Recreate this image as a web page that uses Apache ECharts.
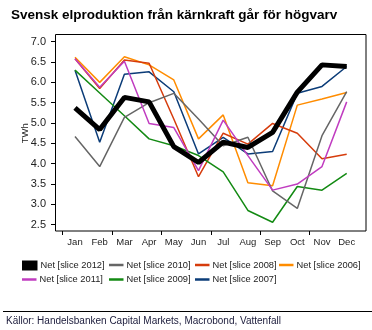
<!DOCTYPE html>
<html><head><meta charset="utf-8">
<script src="https://cdn.jsdelivr.net/npm/echarts@6/dist/echarts.min.js"></script>
<style>html,body{margin:0;padding:0;background:#fff}#c{width:372px;height:330px}</style>
</head><body><div id="c"></div>
<script>
var months = ['Jan','Feb','Mar','Apr','May','Jun','Jul','Aug','Sep','Oct','Nov','Dec'];
var yTicks = [2.5, 7.0, 0.5]; // min, max, step
var s2012 = [5.37, 4.84, 5.63, 5.52, 4.42, 4.03, 4.53, 4.40, 4.77, 5.76, 6.43, 6.39];
var s2011 = [6.58, 5.88, 6.52, 4.99, 4.89, 3.83, 5.07, 4.20, 3.35, 3.50, 3.93, 5.52];
var s2010 = [4.67, 3.93, 5.14, 5.50, 5.73, 5.10, 4.44, 4.65, 3.33, 2.90, 4.69, 5.77];
var s2009 = [6.30, 5.74, 5.18, 4.61, 4.44, 4.20, 3.80, 2.85, 2.56, 3.44, 3.35, 3.76];
var s2008 = [6.58, 5.85, 6.55, 6.47, 5.10, 3.68, 4.75, 4.48, 4.99, 4.75, 4.12, 4.23];
var s2007 = [6.30, 4.53, 6.20, 6.26, 5.77, 4.24, 4.65, 4.24, 4.30, 5.73, 5.90, 6.39];
var s2006 = [6.62, 6.00, 6.63, 6.43, 6.06, 4.61, 5.20, 3.53, 3.46, 5.44, 5.59, 5.75];
var names = ['Net [slice 2012]','Net [slice 2011]','Net [slice 2010]','Net [slice 2009]','Net [slice 2008]','Net [slice 2007]','Net [slice 2006]'];
var colors = ['#000000','#c03cc0','#666666','#138a13','#d63c0c','#0b3c78','#ff8c00'];
var datas = [s2012, s2011, s2010, s2009, s2008, s2007, s2006];

var FONT = 'Liberation Sans';
var series = [];
for (var i = datas.length - 1; i >= 0; i--) {
  series.push({
    name: names[i], type: 'line', data: datas[i], symbol: 'none',
    xAxisIndex: 0, yAxisIndex: 0,
    lineStyle: {color: colors[i], width: i === 0 ? 5 : 1.5},
    itemStyle: {color: colors[i]},
    z: i === 0 ? 10 : 2, animation: false
  });
}
var legendPos = [[0,22,260.5],[2,109,260.5],[4,195,260.5],[6,279,260.5],[1,22,275],[3,109,275],[5,195,275]];
var legends = legendPos.map(function(p){
  var isBlack = p[0] === 0;
  return {
    data: [{name: names[p[0]], icon: 'rect'}],
    left: p[1], top: p[2], itemWidth: isBlack ? 15.5 : 14.5, itemHeight: isBlack ? 10 : 2.5,
    itemGap: 0, padding: 0, selectedMode: false,
    textStyle: {fontFamily: FONT, fontSize: 9.3, color: '#222', padding: [0,0,0,-2]}
  };
});

var chart = echarts.init(document.getElementById('c'), null, {renderer: 'canvas'});
chart.setOption({
  animation: false,
  title: {text: 'Svensk elproduktion från kärnkraft går för högvarv', left: 6, top: 3,
    textStyle: {fontFamily: FONT, fontSize: 13.5, fontWeight: 'bold', color: '#000'}},
  legend: legends,
  grid: [
    {left: 62.65, right: 12.95, top: 41.7, bottom: 105.3},
    {left: 62.65, right: 37.65, top: 41.7, bottom: 105.3}
  ],
  xAxis: [
    {type: 'category', gridIndex: 0, data: months, boundaryGap: true, offset: 6.3,
      axisLine: {show: false}, axisTick: {show: false},
      axisLabel: {fontFamily: FONT, fontSize: 9.5, color: '#222', margin: 6}},
    {type: 'category', gridIndex: 1, data: months, boundaryGap: false, offset: 6.3,
      axisLine: {show: false}, axisLabel: {show: false},
      axisTick: {show: true, length: 4, inside: false, lineStyle: {color: '#000'}}}
  ],
  yAxis: [
    {type: 'value', gridIndex: 0, min: yTicks[0], max: yTicks[1], interval: yTicks[2], offset: 7.65,
      name: 'TWh', nameLocation: 'middle', nameGap: 25, nameRotate: 90, nameMoveOverlap: false,
      nameTextStyle: {fontFamily: FONT, fontSize: 9.5, color: '#222'},
      axisLine: {show: false}, splitLine: {show: false},
      axisTick: {show: true, length: 4, inside: false, lineStyle: {color: '#000'}},
      axisLabel: {fontFamily: FONT, fontSize: 11, color: '#222', margin: 9,
        formatter: function(v){ return v.toFixed(1); }}},
    {type: 'value', gridIndex: 1, show: false, min: yTicks[0], max: yTicks[1]}
  ],
  series: series,
  graphic: [
    {type: 'rect', shape: {x: 55.5, y: 34.5, width: 310.5, height: 196.5},
      style: {fill: null, stroke: '#000', lineWidth: 1}, z: 100, silent: true},
    {type: 'line', shape: {x1: 3, y1: 311.5, x2: 372, y2: 311.5},
      style: {stroke: '#000', lineWidth: 1}},
    {type: 'text', left: 6, top: 316.5,
      style: {text: 'Källor: Handelsbanken Capital Markets, Macrobond, Vattenfall',
        font: '10px "Liberation Sans"', fill: '#1a1a3a'}}
  ]
});
</script></body></html>
